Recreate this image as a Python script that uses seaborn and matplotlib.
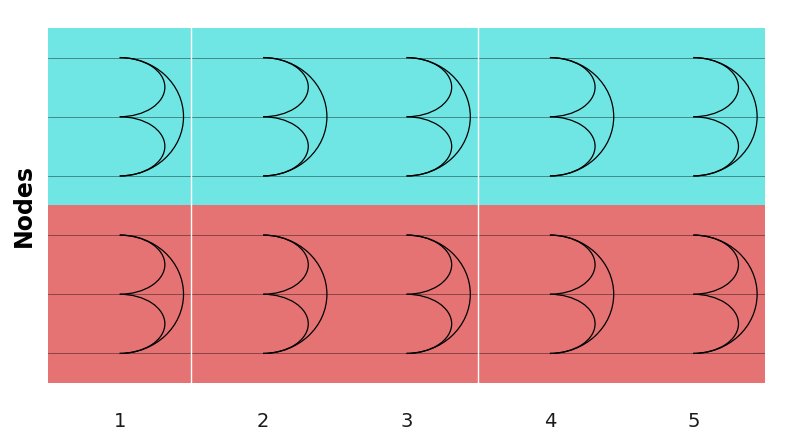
import matplotlib
matplotlib.use("Agg")
import matplotlib.pyplot as plt
from matplotlib.patches import Arc
import seaborn as sns

# ── data ─────────────────────────────────────────────────────────────────────
categories = [1, 2, 3, 4, 5]
nodes = ["A", "B", "C", "D", "E", "F"]          # top to bottom
node_group = [0, 0, 0, 1, 1, 1]
group_colors = ["#70E6E4", "#E57373"]
edges = [("A", "B"), ("B", "C"), ("A", "C"),
         ("D", "E"), ("E", "F"), ("D", "F")]
edge_reach = [0.315, 0.315, 0.445, 0.315, 0.315, 0.445]   # arc bulge, in category units
separators = [1.5, 3.5]

# ── style ────────────────────────────────────────────────────────────────────
sns.set_theme(style="white")
plt.rcParams["font.family"] = ["DejaVu Sans"]

fig, ax = plt.subplots(figsize=(7.9, 4.4), dpi=100)
fig.subplots_adjust(left=48 / 790, right=765 / 790, bottom=57 / 440, top=412 / 440)

ypos = {n: i + 0.5 for i, n in enumerate(nodes)}

# group bands
for g, col in enumerate(group_colors):
    members = [ypos[n] for n, gg in zip(nodes, node_group) if gg == g]
    ax.axhspan(min(members) - 0.5, max(members) + 0.5, color=col, zorder=0, lw=0)

# node lines
for n in nodes:
    ax.axhline(ypos[n], color="black", alpha=0.4, lw=0.7, zorder=1)

for s in separators:
    ax.axvline(s, color="white", lw=1, zorder=1)

# arcs for each category
for c in categories:
    for (a, b), r in zip(edges, edge_reach):
        y1, y2 = ypos[a], ypos[b]
        arc = Arc((c, (y1 + y2) / 2), width=2 * r, height=abs(y2 - y1),
                  theta1=-90, theta2=90, color="black", lw=0.9, zorder=2)
        ax.add_patch(arc)

ax.set_xlim(0.5, 5.5)
ax.set_ylim(len(nodes), 0)
ax.set_xticks(categories)
ax.set_xticklabels([str(c) for c in categories], fontsize=14, color="#1a1a1a")
ax.set_yticks([])
ax.tick_params(axis="x", length=0, pad=21)
sns.despine(ax=ax, left=True, bottom=True)
ax.set_ylabel("Nodes", fontsize=17, fontweight="bold", labelpad=9,
              color="black")

fig.savefig("out.png", dpi=100)
